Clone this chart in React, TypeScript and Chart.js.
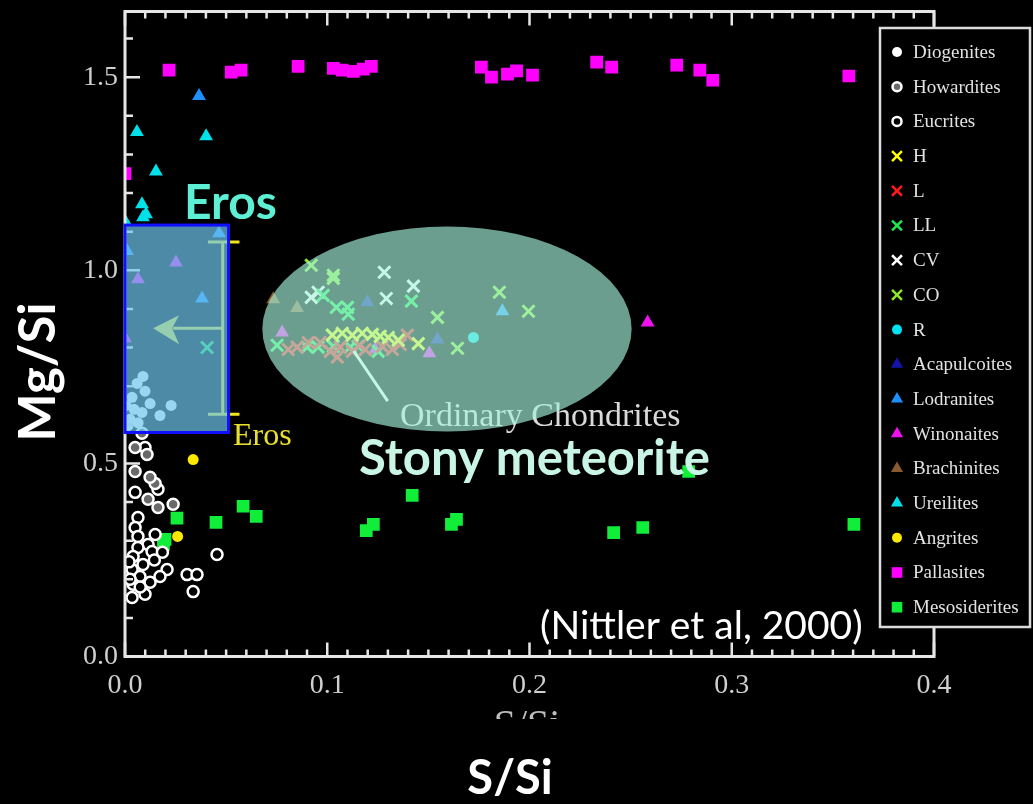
import React, { useEffect, useRef } from 'react';
import { Chart, registerables } from 'chart.js';
import { drawPoint } from 'chart.js/helpers';

Chart.register(...registerables);

type P = [number, number]; // [S/Si, Mg/Si]

const diogenites: P[] = [
  [0.0089, 0.725], [0.006, 0.707], [0.0099, 0.687], [0.0035, 0.671], [0.0124, 0.655],
  [0.0228, 0.65], [0.0084, 0.632], [0.0173, 0.624], [0.0025, 0.614], [0.0015, 0.598],
  [0.0005, 0.65], [0.0045, 0.64], [0.0065, 0.605],
];
const howardites: P[] = [
  [0.0084, 0.578], [0.005, 0.541], [0.0109, 0.523], [0.005, 0.479], [0.0149, 0.448],
  [0.0114, 0.407], [0.0163, 0.386], [0.0238, 0.394], [0.0124, 0.464],
];
const eucrites: P[] = [
  [0.0099, 0.541], [0.0163, 0.433], [0.005, 0.425], [0.0064, 0.36], [0.005, 0.334],
  [0.0149, 0.316], [0.0064, 0.311], [0.0114, 0.29], [0.0064, 0.282], [0.0134, 0.272],
  [0.004, 0.259], [0.0089, 0.238], [0.0208, 0.225], [0.0035, 0.225], [0.0173, 0.207],
  [0.0074, 0.207], [0.0124, 0.192], [0.004, 0.187], [0.0099, 0.161], [0.0035, 0.153],
  [0.0307, 0.212], [0.0356, 0.212], [0.0337, 0.168], [0.0455, 0.264], [0.0025, 0.2],
  [0.002, 0.245], [0.0075, 0.18], [0.0145, 0.25], [0.0185, 0.27],
];
const chondH: P[] = [
  [0.1025, 0.832], [0.1074, 0.837], [0.1124, 0.832], [0.1173, 0.837], [0.1223, 0.834],
  [0.1262, 0.829], [0.1302, 0.826], [0.1351, 0.819], [0.145, 0.81],
];
const chondL: P[] = [
  [0.0807, 0.795], [0.0851, 0.801], [0.0906, 0.813], [0.0965, 0.813], [0.105, 0.775],
  [0.1064, 0.801], [0.1124, 0.79], [0.1188, 0.795], [0.1272, 0.803], [0.1322, 0.795],
  [0.1361, 0.808], [0.1396, 0.832], [0.1015, 0.79], [0.116, 0.805],
];
const chondLL: P[] = [
  [0.0406, 0.8], [0.0752, 0.806], [0.0901, 0.801], [0.0955, 0.801], [0.103, 0.803],
  [0.1114, 0.801], [0.1153, 0.803], [0.1252, 0.79], [0.098, 0.935], [0.1045, 0.904],
  [0.11, 0.904], [0.1104, 0.886], [0.1416, 0.92],
];
const chondCV: P[] = [
  [0.1282, 0.995], [0.1426, 0.959], [0.1292, 0.927], [0.0921, 0.93], [0.0955, 0.943],
];
const chondCO: P[] = [
  [0.0921, 1.013], [0.103, 0.987], [0.103, 0.979], [0.1545, 0.878], [0.1851, 0.943],
  [0.1995, 0.894], [0.1644, 0.798],
];
const chondR: P[] = [[0.1723, 0.826]];
const acapulcoites: P[] = [[0.1198, 0.917], [0.1545, 0.821]];
const lodranites: P[] = [[0.0366, 1.451], [0.0465, 1.096], [0.0381, 0.927], [0.1866, 0.894], [0.001, 1.05]];
const winonaites: P[] = [
  [0.0252, 1.02], [0.0064, 0.977], [0.0, 0.824], [0.2584, 0.865], [0.0777, 0.839],
  [0.1238, 0.795], [0.1505, 0.785],
];
const brachinites: P[] = [[0.0733, 0.925], [0.0851, 0.902]];
const ureilites: P[] = [
  [0.0059, 1.358], [0.0401, 1.347], [0.0153, 1.256], [0.0084, 1.171], [0.0104, 1.145],
  [0.0089, 1.137], [0.0, 1.127],
];
const angrites: P[] = [[0.0337, 0.51], [0.026, 0.311]];
const pallasites: P[] = [
  [0.0218, 1.518], [0.0525, 1.513], [0.0574, 1.518], [0.0856, 1.528], [0.103, 1.523],
  [0.1074, 1.518], [0.1129, 1.515], [0.1178, 1.521], [0.1218, 1.528], [0.1762, 1.526],
  [0.1812, 1.5], [0.1891, 1.508], [0.1936, 1.516], [0.2015, 1.505], [0.2332, 1.539],
  [0.2406, 1.526], [0.2728, 1.531], [0.2842, 1.518], [0.2906, 1.492], [0.3579, 1.503],
  [0.0, 1.25],
];
const mesosiderites: P[] = [
  [0.0257, 0.358], [0.0198, 0.303], [0.019, 0.29], [0.045, 0.347], [0.0584, 0.389],
  [0.0649, 0.363], [0.1193, 0.326], [0.1228, 0.342], [0.142, 0.417], [0.1614, 0.342],
  [0.1639, 0.355], [0.2416, 0.321], [0.256, 0.334], [0.3604, 0.342], [0.2787, 0.479],
];

const X_RANGE: P = [0, 0.4];
const Y_RANGE: P = [0, 1.67];
const X_MAJOR = 0.1, X_MINOR = 0.01;
const Y_MAJOR = 0.5, Y_MINOR = 0.1;

// Annotations (data units)
const EROS_BOX = { s0: 0, s1: 0.0512, m0: 0.58, m1: 1.117 };
const EROS_BAR = { s: 0.0483, capS0: 0.041, capS1: 0.0566, m0: 0.627, m1: 1.073 };
const EROS_ARROW = { sFrom: 0.0483, sTo: 0.0139, m: 0.85 };
const OC_ELLIPSE = { s: 0.1592, m: 0.848, rs: 0.0913, rm: 0.2655 };
const OC_POINTER = { s0: 0.1131, m0: 0.791, s1: 0.1299, m1: 0.661 };

type Style = { label: string; data: P[]; ps: string; fill: string; stroke: string; r: number; bw: number; lr: number };
const SERIES: Style[] = [
  { label: 'Diogenites', data: diogenites, ps: 'circle', fill: '#ffffff', stroke: '#ffffff', r: 5.5, bw: 0, lr: 5 },
  { label: 'Howardites', data: howardites, ps: 'circle', fill: '#6a6a6a', stroke: '#ffffff', r: 5.5, bw: 2.5, lr: 4.5 },
  { label: 'Eucrites', data: eucrites, ps: 'circle', fill: '#000000', stroke: '#ffffff', r: 5.5, bw: 2.5, lr: 4.5 },
  { label: 'H', data: chondH, ps: 'crossRot', fill: '#ffff00', stroke: '#ffff00', r: 8.5, bw: 3, lr: 7 },
  { label: 'L', data: chondL, ps: 'crossRot', fill: '#ff1a1a', stroke: '#ff1a1a', r: 8.5, bw: 3, lr: 7 },
  { label: 'LL', data: chondLL, ps: 'crossRot', fill: '#1ee84a', stroke: '#1ee84a', r: 8.5, bw: 3, lr: 7 },
  { label: 'CV', data: chondCV, ps: 'crossRot', fill: '#ffffff', stroke: '#ffffff', r: 8.5, bw: 3, lr: 7 },
  { label: 'CO', data: chondCO, ps: 'crossRot', fill: '#8ee82a', stroke: '#8ee82a', r: 8.5, bw: 3, lr: 7 },
  { label: 'R', data: chondR, ps: 'circle', fill: '#00e0f0', stroke: '#00e0f0', r: 5.5, bw: 0, lr: 5 },
  { label: 'Acapulcoites', data: acapulcoites, ps: 'triangle', fill: '#1414a8', stroke: '#1414a8', r: 8, bw: 0, lr: 7 },
  { label: 'Lodranites', data: lodranites, ps: 'triangle', fill: '#1e8fff', stroke: '#1e8fff', r: 8, bw: 0, lr: 7 },
  { label: 'Winonaites', data: winonaites, ps: 'triangle', fill: '#f010f0', stroke: '#f010f0', r: 8, bw: 0, lr: 7 },
  { label: 'Brachinites', data: brachinites, ps: 'triangle', fill: '#8a5a30', stroke: '#8a5a30', r: 8, bw: 0, lr: 7 },
  { label: 'Ureilites', data: ureilites, ps: 'triangle', fill: '#00e0e8', stroke: '#00e0e8', r: 8, bw: 0, lr: 7 },
  { label: 'Angrites', data: angrites, ps: 'circle', fill: '#ffe800', stroke: '#ffe800', r: 5.5, bw: 0, lr: 5 },
  { label: 'Pallasites', data: pallasites, ps: 'rect', fill: '#ff00ff', stroke: '#ff00ff', r: 9, bw: 0, lr: 7.5 },
  { label: 'Mesosiderites', data: mesosiderites, ps: 'rect', fill: '#10ee3a', stroke: '#10ee3a', r: 9, bw: 0, lr: 7.5 },
];

const SERIF = '"Liberation Serif", "Times New Roman", serif';
const SANS = 'Lato, "Open Sans", sans-serif';

const overlayPlugin = {
  id: 'overlay',
  afterDatasetsDraw(chart: any) {
    const { ctx, chartArea: ca, scales } = chart;
    const xs = scales.x, ys = scales.y;
    const px = (v: number) => xs.getPixelForValue(v);
    const py = (v: number) => ys.getPixelForValue(v);
    ctx.save();

    // frame and ticks
    ctx.strokeStyle = '#e6e6e6';
    ctx.lineWidth = 3;
    ctx.strokeRect(ca.left, ca.top, ca.right - ca.left, ca.bottom - ca.top);
    ctx.lineWidth = 2.5;
    ctx.beginPath();
    const nx = Math.round((X_RANGE[1] - X_RANGE[0]) / X_MINOR);
    const perMajX = Math.round(X_MAJOR / X_MINOR);
    for (let i = 0; i <= nx; i++) {
      const v = X_RANGE[0] + i * X_MINOR;
      const len = i % perMajX === 0 ? 14 : 7;
      const x = px(v);
      ctx.moveTo(x, ca.bottom); ctx.lineTo(x, ca.bottom - len);
      ctx.moveTo(x, ca.top); ctx.lineTo(x, ca.top + len);
    }
    const perMajY = Math.round(Y_MAJOR / Y_MINOR);
    for (let i = 0; Y_RANGE[0] + i * Y_MINOR <= Y_RANGE[1] + 1e-9; i++) {
      const v = Y_RANGE[0] + i * Y_MINOR;
      const len = i % perMajY === 0 ? 15 : 8;
      const y = py(v);
      ctx.moveTo(ca.left, y); ctx.lineTo(ca.left + len, y);
      ctx.moveTo(ca.right, y); ctx.lineTo(ca.right - len, y);
    }
    ctx.stroke();

    // Ordinary Chondrites label & pointer (under the ellipse)
    ctx.fillStyle = '#d9d9d9';
    ctx.font = `34px ${SERIF}`;
    ctx.textBaseline = 'alphabetic';
    ctx.textAlign = 'left';
    ctx.fillText('Ordinary Chondrites', 400, 426);
    ctx.strokeStyle = '#ffffff';
    ctx.lineWidth = 3;
    ctx.beginPath();
    ctx.moveTo(px(OC_POINTER.s0), py(OC_POINTER.m0));
    ctx.lineTo(px(OC_POINTER.s1), py(OC_POINTER.m1));
    ctx.stroke();

    // ellipse
    const ecx = px(OC_ELLIPSE.s), ecy = py(OC_ELLIPSE.m);
    const erx = px(OC_ELLIPSE.s + OC_ELLIPSE.rs) - ecx;
    const ery = ecy - py(OC_ELLIPSE.m + OC_ELLIPSE.rm);
    ctx.fillStyle = 'rgba(165,242,220,0.65)';
    ctx.beginPath();
    ctx.ellipse(ecx, ecy, erx, ery, 0, 0, Math.PI * 2);
    ctx.fill();

    // Eros bracket (yellow)
    ctx.strokeStyle = '#f2e61e';
    ctx.lineWidth = 3;
    ctx.beginPath();
    ctx.moveTo(px(EROS_BAR.capS0), py(EROS_BAR.m1));
    ctx.lineTo(px(EROS_BAR.capS1), py(EROS_BAR.m1));
    ctx.moveTo(px(EROS_BAR.capS0), py(EROS_BAR.m0));
    ctx.lineTo(px(EROS_BAR.capS1), py(EROS_BAR.m0));
    ctx.moveTo(px(EROS_BAR.s), py(EROS_BAR.m1));
    ctx.lineTo(px(EROS_BAR.s), py(EROS_BAR.m0));
    ctx.stroke();
    // arrow
    const ax0 = px(EROS_ARROW.sFrom), ax1 = px(EROS_ARROW.sTo), ay = py(EROS_ARROW.m);
    ctx.beginPath();
    ctx.moveTo(ax0, ay); ctx.lineTo(ax1 + 20, ay);
    ctx.stroke();
    ctx.fillStyle = '#f2e61e';
    ctx.beginPath();
    ctx.moveTo(ax1, ay);
    ctx.lineTo(ax1 + 26, ay - 13);
    ctx.lineTo(ax1 + 19, ay);
    ctx.lineTo(ax1 + 26, ay + 16);
    ctx.closePath();
    ctx.fill();
    ctx.fillStyle = '#e8e030';
    ctx.font = `32px ${SERIF}`;
    ctx.fillText('Eros', 233, 445);

    // Eros box
    const bx0 = px(EROS_BOX.s0), bx1 = px(EROS_BOX.s1), by0 = py(EROS_BOX.m1), by1 = py(EROS_BOX.m0);
    ctx.fillStyle = 'rgba(110,196,236,0.7)';
    ctx.fillRect(bx0, by0, bx1 - bx0, by1 - by0);
    ctx.strokeStyle = '#1010ff';
    ctx.lineWidth = 3;
    ctx.strokeRect(bx0, by0, bx1 - bx0, by1 - by0);

    // slide texts
    ctx.fillStyle = '#5df0d4';
    ctx.font = `bold 48px ${SANS}`;
    ctx.fillText('Eros', 184, 219);
    ctx.fillStyle = '#c8f5e6';
    ctx.font = `bold 49px ${SANS}`;
    ctx.fillText('Stony meteorite', 359, 475);
    ctx.fillStyle = '#ffffff';
    ctx.font = `39px ${SANS}`;
    ctx.fillText('(Nittler et al, 2000)', 540, 639);

    ctx.restore();
  },
  afterDraw(chart: any) {
    const { ctx } = chart;
    ctx.save();
    // cut-off original axis title
    ctx.save();
    ctx.beginPath();
    ctx.rect(0, 0, 1033, 719);
    ctx.clip();
    ctx.fillStyle = '#bdbdbd';
    ctx.font = `40px ${SERIF}`;
    ctx.textAlign = 'center';
    ctx.textBaseline = 'alphabetic';
    ctx.fillText('S/Si', 527, 737);
    ctx.restore();

    // axis titles
    ctx.fillStyle = '#ffffff';
    ctx.font = `bold 47px ${SANS}`;
    ctx.textAlign = 'center';
    ctx.textBaseline = 'alphabetic';
    ctx.fillText('S/Si', 510, 794);
    ctx.font = `bold 51px ${SANS}`;
    ctx.save();
    ctx.translate(55, 372);
    ctx.rotate(-Math.PI / 2);
    ctx.fillText('Mg/Si', 0, 0);
    ctx.restore();

    // legend
    const lx = 880, ly = 28, lw = 150, lh = 599;
    ctx.fillStyle = '#000000';
    ctx.fillRect(lx, ly, lw, lh);
    ctx.strokeStyle = '#dcdcdc';
    ctx.lineWidth = 2.5;
    ctx.strokeRect(lx, ly, lw, lh);
    const step = 34.7;
    chart.data.datasets.forEach((ds: any, i: number) => {
      const s = SERIES[i];
      const y = 52 + i * step;
      ctx.fillStyle = s.fill;
      ctx.strokeStyle = s.stroke;
      ctx.lineWidth = s.ps === 'crossRot' ? 2.5 : s.bw;
      drawPoint(ctx, { pointStyle: s.ps, radius: s.lr, rotation: 0, borderWidth: s.ps === 'crossRot' ? 2.5 : s.bw } as any, 897, y);
      ctx.fillStyle = '#e2e2e2';
      ctx.font = `19px ${SERIF}`;
      ctx.textAlign = 'left';
      ctx.textBaseline = 'middle';
      ctx.fillText(ds.label, 913, y + 1);
    });
    ctx.restore();
  },
};

export default function App() {
  const ref = useRef<HTMLCanvasElement | null>(null);
  useEffect(() => {
    if (!ref.current) return;
    const datasets = SERIES.map((s) => ({
      label: s.label,
      data: s.data.map(([x, y]) => ({ x, y })),
      pointStyle: s.ps,
      pointRadius: s.r,
      pointHoverRadius: s.r,
      pointBackgroundColor: s.fill,
      pointBorderColor: s.stroke,
      pointBorderWidth: s.bw,
      showLine: false,
      clip: 0,
    }));
    const chart = new Chart(ref.current, {
      type: 'scatter',
      data: { datasets },
      options: {
        animation: false,
        responsive: false,
        devicePixelRatio: 1,
        events: [],
        layout: { padding: { left: 0, right: 99, top: 11, bottom: 0 } },
        plugins: { legend: { display: false }, tooltip: { enabled: false } },
        scales: {
          x: {
            type: 'linear',
            min: X_RANGE[0],
            max: X_RANGE[1],
            border: { display: false },
            grid: { display: false, drawTicks: false },
            ticks: {
              stepSize: X_MAJOR,
              autoSkip: false,
              maxRotation: 0,
              includeBounds: false,
              padding: 12,
              color: '#cfcfcf',
              font: { family: SERIF, size: 28 },
              callback: (v: any) => Number(v).toFixed(1),
            },
            afterFit: (s: any) => { s.height = 147.5; s.paddingLeft = 0; s.paddingRight = 0; },
          },
          y: {
            type: 'linear',
            min: Y_RANGE[0],
            max: Y_RANGE[1],
            border: { display: false },
            grid: { display: false, drawTicks: false },
            ticks: {
              stepSize: Y_MAJOR,
              autoSkip: false,
              includeBounds: false,
              padding: 7,
              color: '#cfcfcf',
              font: { family: SERIF, size: 28 },
              callback: (v: any) => Number(v).toFixed(1),
            },
            afterFit: (s: any) => { s.width = 125; s.paddingTop = 0; s.paddingBottom = 0; },
          },
        },
      },
      plugins: [overlayPlugin],
    } as any);
    return () => chart.destroy();
  }, []);
  return (
    <div style={{ position: 'fixed', left: 0, top: 0, width: 1033, height: 804, background: '#000', overflow: 'hidden' }}>
      <canvas ref={ref} width={1033} height={804} style={{ width: 1033, height: 804, display: 'block' }} />
    </div>
  );
}
